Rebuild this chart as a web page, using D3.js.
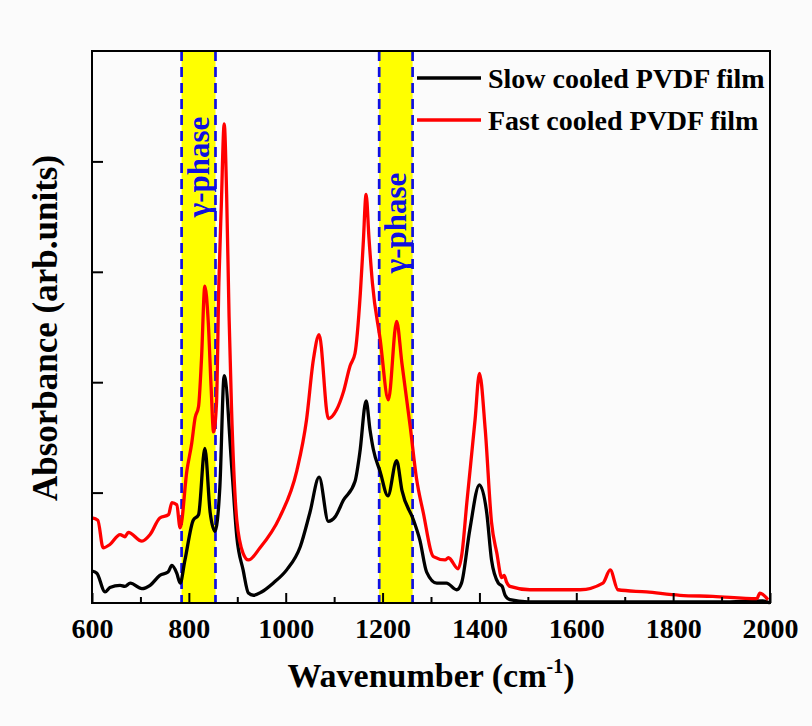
<!DOCTYPE html>
<html>
<head>
<meta charset="utf-8">
<script src="https://cdnjs.cloudflare.com/ajax/libs/d3/7.8.5/d3.min.js"></script>
<style>
  body { margin: 0; background: #fbfbfb; }
  text { font-family: "Times New Roman", "Liberation Serif", serif; font-weight: bold; }
</style>
</head>
<body>
<div id="spectrum"></div>
<script>
// FTIR spectra, [wavenumber, absorbance]
var slowCooled = [
  [600,0.29],[610,0.27],[627,0.10],[637,0.14],[658,0.16],[668,0.15],[679,0.18],[703,0.13],
  [720,0.16],[740,0.25],[757,0.28],[765,0.34],[775,0.27],[782,0.18],[792,0.39],[809,0.75],
  [820,0.80],[833,1.40],[844,0.82],[854,0.65],[864,1.05],[873,2.06],[889,1.20],[899,0.60],
  [912,0.30],[923,0.09],[933,0.07],[950,0.10],[974,0.18],[1002,0.30],[1030,0.51],[1050,0.82],
  [1069,1.14],[1088,0.74],[1102,0.78],[1119,0.93],[1143,1.10],[1153,1.36],[1166,1.83],
  [1174,1.57],[1181,1.39],[1195,1.19],[1211,0.97],[1229,1.29],[1240,1.02],[1264,0.75],
  [1277,0.57],[1291,0.28],[1312,0.18],[1332,0.18],[1353,0.12],[1363,0.18],[1380,0.66],
  [1400,1.07],[1415,0.82],[1425,0.39],[1439,0.18],[1447,0.15],[1453,0.07],[1463,0.03],
  [1500,0.01],[1600,0.01],[1700,0.01],[1800,0.01],[1900,0.01],[1985,0.02],[2000,0.0]
];

var fastCooled = [
  [600,0.77],[612,0.75],[623,0.50],[637,0.53],[658,0.62],[668,0.60],[675,0.64],[703,0.56],
  [720,0.62],[740,0.77],[758,0.80],[765,0.91],[775,0.89],[782,0.68],[796,1.20],[806,1.45],
  [813,1.68],[820,1.78],[826,2.20],[833,2.87],[840,2.55],[846,1.95],[851,1.55],[857,1.80],
  [862,2.90],[867,3.60],[873,4.34],[878,3.70],[883,2.60],[888,1.78],[899,0.75],[912,0.45],
  [923,0.39],[947,0.50],[988,0.78],[1023,1.20],[1043,1.66],[1057,2.20],[1069,2.43],
  [1088,1.67],[1105,1.75],[1119,1.91],[1133,2.15],[1143,2.26],[1154,2.80],[1160,3.25],
  [1166,3.70],[1172,3.30],[1179,2.90],[1195,2.39],[1212,1.84],[1229,2.55],[1240,2.17],
  [1257,1.60],[1270,1.13],[1284,0.82],[1305,0.42],[1329,0.39],[1336,0.41],[1356,0.31],
  [1364,0.45],[1374,0.91],[1391,1.66],[1400,2.08],[1412,1.57],[1425,0.73],[1436,0.45],
  [1446,0.23],[1451,0.25],[1456,0.19],[1463,0.15],[1504,0.12],[1608,0.12],[1655,0.18],
  [1670,0.30],[1686,0.12],[1745,0.10],[1814,0.07],[1882,0.06],[1973,0.04],[1979,0.09],
  [1996,0.03]
];

var seriesNames = ["Slow cooled PVDF film", "Fast cooled PVDF film"];
var seriesColors = ["#000000", "#ff0000"];

// gamma phase regions (cm-1)
var gammaBands = [[785, 855], [1193, 1262]];

var xMajorTicks = [600, 800, 1000, 1200, 1400, 1600, 1800, 2000];
var xMinorTicks = [700, 900, 1100, 1300, 1500, 1700, 1900];
var yTicks = [1, 2, 3, 4];

// dimensions
var margin = {top: 51, right: 42, bottom: 123, left: 92},
    width = 812 - margin.left - margin.right,
    height = 726 - margin.top - margin.bottom;

var x = d3.scaleLinear().domain([600, 2000]).range([0, width]);
var y = d3.scaleLinear().domain([0, 5]).range([height, 0]);

var svg = d3.select("#spectrum")
  .append("svg")
    .attr("width", 812)
    .attr("height", 726);

var plot = svg.append("g")
    .attr("transform", "translate(" + margin.left + "," + margin.top + ")");

// yellow bands
plot.selectAll(".band")
  .data(gammaBands)
.enter().append("rect")
  .attr("class", "band")
  .attr("x", function(d){ return x(d[0]); })
  .attr("width", function(d){ return x(d[1]) - x(d[0]); })
  .attr("y", 0)
  .attr("height", height)
  .style("fill", "#ffff00");

// dashed borders of the bands
var edges = [];
gammaBands.forEach(function(b){ edges.push(b[0]); edges.push(b[1]); });

plot.selectAll(".edge")
  .data(edges)
.enter().append("line")
  .attr("class", "edge")
  .attr("x1", function(d){ return x(d); })
  .attr("x2", function(d){ return x(d); })
  .attr("y1", 0)
  .attr("y2", height)
  .style("stroke", "#1010e0")
  .style("stroke-width", 2.7)
  .style("stroke-dasharray", "10,6");

// gamma phase labels
var labelPos = [167, 223];
plot.selectAll(".gamma")
  .data(gammaBands)
.enter().append("text")
  .attr("class", "gamma")
  .attr("transform", function(d, i){
    var cx = (x(d[0]) + x(d[1])) / 2 + 10;
    return "translate(" + cx + "," + (labelPos[i] - margin.top) + ") rotate(-90)";
  })
  .style("text-anchor", "middle")
  .style("font-size", "31px")
  .style("fill", "#1010e0")
  .text("γ-phase");

// spectra
var line = d3.line()
  .x(function(d){ return x(d[0]); })
  .y(function(d){ return y(d[1]); })
  .curve(d3.curveMonotoneX);

[slowCooled, fastCooled].forEach(function(s, i){
  plot.append("path")
    .datum(s)
    .attr("d", line)
    .style("fill", "none")
    .style("stroke", seriesColors[i])
    .style("stroke-width", 3.3)
    .style("stroke-linejoin", "round");
});

// x axis, major ticks with labels
var xAxis = d3.axisBottom(x)
  .tickValues(xMajorTicks)
  .tickFormat(d3.format("d"))
  .tickSizeInner(-10)
  .tickSizeOuter(0)
  .tickPadding(15);

var gx = plot.append("g")
  .attr("class", "x axis")
  .attr("transform", "translate(0," + height + ")")
  .call(xAxis);

gx.selectAll("text")
  .style("font-size", "28px")
  .style("font-family", "'Times New Roman', 'Liberation Serif', serif")
  .style("font-weight", "bold")
  .style("fill", "#000");

// minor ticks
plot.append("g")
  .attr("class", "x minor")
  .attr("transform", "translate(0," + height + ")")
  .call(d3.axisBottom(x).tickValues(xMinorTicks).tickSizeInner(-6).tickSizeOuter(0).tickFormat(""));

// y axis, no labels
plot.append("g")
  .attr("class", "y axis")
  .call(d3.axisLeft(y).tickValues(yTicks).tickSizeInner(-11).tickSizeOuter(0).tickFormat(""));

plot.selectAll(".axis line, .minor line").style("stroke", "#000").style("stroke-width", 2);
plot.selectAll(".domain").remove();

// frame
plot.append("rect")
  .attr("width", width)
  .attr("height", height)
  .style("fill", "none")
  .style("stroke", "#000")
  .style("stroke-width", 2);

// legend
var legend = svg.selectAll(".legend")
  .data(seriesNames)
.enter().append("g")
  .attr("class", "legend")
  .attr("transform", function(d, i){ return "translate(417," + (78 + i * 42) + ")"; });

legend.append("line")
  .attr("x1", 0)
  .attr("x2", 64)
  .style("stroke", function(d, i){ return seriesColors[i]; })
  .style("stroke-width", 3.3);

legend.append("text")
  .attr("x", 71)
  .attr("y", 10)
  .style("font-size", "28px")
  .text(function(d){ return d; });

// axis titles
var xt = svg.append("text")
  .attr("x", 431)
  .attr("y", 687)
  .style("text-anchor", "middle")
  .style("font-size", "34px")
  .text("Wavenumber (cm");
xt.append("tspan").attr("dy", -14).style("font-size", "20px").text("-1");
xt.append("tspan").attr("dy", 14).text(")");

svg.append("text")
  .attr("transform", "translate(57,328) rotate(-90)")
  .style("text-anchor", "middle")
  .style("font-size", "35px")
  .text("Absorbance (arb.units)");
</script>
</body>
</html>
